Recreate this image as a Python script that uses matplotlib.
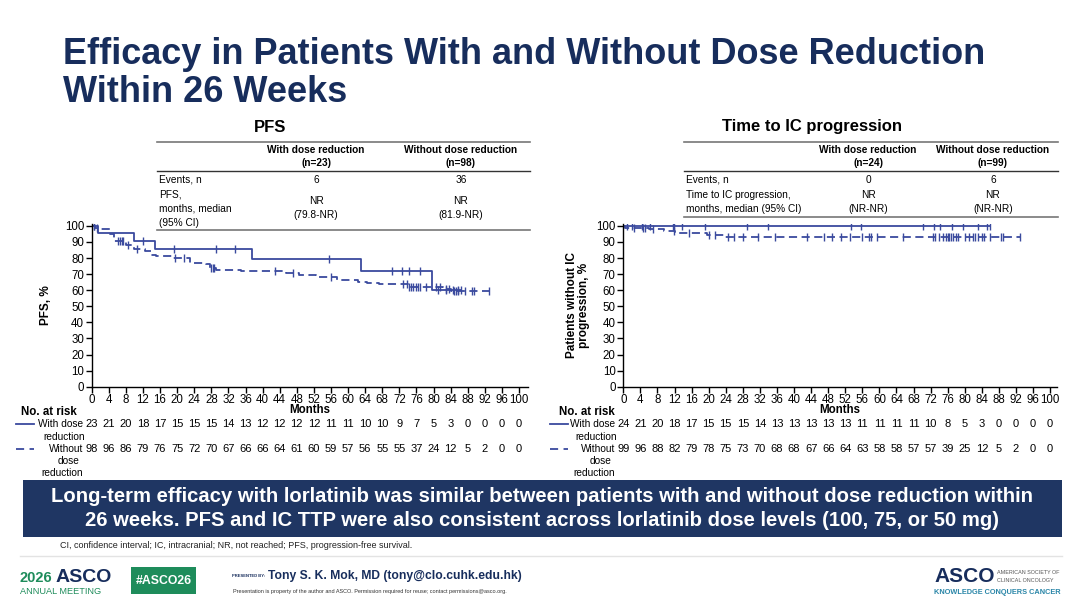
import matplotlib
matplotlib.use("Agg")
import matplotlib.pyplot as plt
import matplotlib.transforms as mtransforms
from matplotlib.patches import Rectangle
from matplotlib.lines import Line2D
import numpy as np

plt.rcParams['font.family'] = ['Liberation Sans', 'DejaVu Sans']

# ---------------- data ----------------
month_ticks = list(range(0, 101, 4))
pct_ticks = list(range(0, 101, 10))

# PFS, with dose reduction (solid)
pfs_with_t = [0, 1.5, 9.8, 14.7, 37.6, 63.0, 79.7]
pfs_with_s = [100, 95.7, 90.9, 85.9, 79.3, 72.1, 60.1]
pfs_with_cens = [0.5, 11.9, 19.3, 29.0, 33.5, 55.6, 70.3, 72.7, 74.3, 76.8, 81.0, 83.0, 84.6, 85.6, 86.5]

# PFS, without dose reduction (dashed)
pfs_wo_t = [0, 0.8, 2.0, 4.3, 5.2, 8.0, 9.8, 12.5, 13.8, 15.0, 19.0, 23.0, 26.8, 27.6, 29.0,
            35.0, 45.5, 48.5, 52.5, 57.5, 62.3, 64.5, 67.3, 74.0, 82.3, 84.0]
pfs_wo_s = [100, 99.0, 98.0, 94.9, 90.6, 88.0, 85.4, 84.3, 82.2, 81.2, 80.2, 77.2, 76.1, 74.0, 72.8,
            71.8, 70.6, 69.4, 68.0, 66.6, 65.4, 64.6, 63.6, 62.2, 60.8, 59.3]
pfs_wo_cens = [0.5, 1.2, 6.2, 6.6, 7.0, 7.4, 8.6, 10.5, 19.5, 21.5, 28.0, 28.3, 28.6, 43.0, 47.0,
               56.0, 72.8, 73.8, 74.3, 74.8, 75.3, 75.8, 76.3, 76.8, 78.3, 80.5, 81.5, 82.8, 83.5,
               84.8, 85.3, 85.8, 87.3, 89.0, 89.4, 93.0]

# Time to IC progression, with dose reduction (solid)
ic_with_t = [0]
ic_with_s = [100]
ic_with_cens = [0.9, 2.0, 4.3, 6.3, 11.7, 11.9, 13.8, 19.1, 28.9, 33.8, 53.4, 55.6, 70.3, 72.7,
                74.2, 77.0, 79.5, 83.0, 85.2, 85.8]

# Time to IC progression, without dose reduction (dashed)
ic_wo_t = [0, 0.5, 6.0, 9.5, 12.0, 19.5, 23.5]
ic_wo_s = [100, 99.0, 97.9, 96.9, 95.6, 94.3, 93.2]
ic_wo_cens = [2.5, 4.5, 5.0, 7.0, 11.8, 15.3, 20.0, 21.5, 24.5, 26.0, 28.0, 31.5, 35.5, 43.0, 47.0,
              49.0, 51.0, 53.0, 56.0, 57.5, 58.0, 59.5, 65.5, 72.5, 73.0, 74.0, 75.0, 75.5, 76.0,
              76.4, 76.8, 77.2, 78.0, 78.5, 80.0, 81.0, 82.0, 82.5, 83.0, 84.0, 84.6, 86.0, 88.5,
              89.0, 93.0]

# numbers at risk
risk_pfs_with = [23, 21, 20, 18, 17, 15, 15, 15, 14, 13, 12, 12, 12, 12, 11, 11, 10, 10, 9, 7, 5, 3, 0, 0, 0, 0]
risk_pfs_wo = [98, 96, 86, 79, 76, 75, 72, 70, 67, 66, 66, 64, 61, 60, 59, 57, 56, 55, 55, 37, 24, 12, 5, 2, 0, 0]
risk_ic_with = [24, 21, 20, 18, 17, 15, 15, 15, 14, 13, 13, 13, 13, 13, 11, 11, 11, 11, 10, 8, 5, 3, 0, 0, 0, 0]
risk_ic_wo = [99, 96, 88, 82, 79, 78, 75, 73, 70, 68, 68, 67, 66, 64, 63, 58, 58, 57, 57, 39, 25, 12, 5, 2, 0, 0]

# table texts
pfs_table = {
    "title": "PFS",
    "head": ["With dose reduction\n(n=23)", "Without dose reduction\n(n=98)"],
    "events": ["6", "36"],
    "row2_label": "PFS,\nmonths, median\n(95% CI)",
    "row2": ["NR\n(79.8-NR)", "NR\n(81.9-NR)"],
}
ic_table = {
    "title": "Time to IC progression",
    "head": ["With dose reduction\n(n=24)", "Without dose reduction\n(n=99)"],
    "events": ["0", "6"],
    "row2_label": "Time to IC progression,\nmonths, median (95% CI)",
    "row2": ["NR\n(NR-NR)", "NR\n(NR-NR)"],
}

# ---------------- style ----------------
W, H = 1080, 607
NAVY = '#172d5c'
LINE = '#3a4a9e'
BOX = '#1f3663'
GREEN = '#1e8c5b'

fig = plt.figure(figsize=(W / 100, H / 100), dpi=100)
fig.patch.set_facecolor('white')


def fx(px):
    return px / W


def fy(py):
    return 1 - py / H


def ftext(px, py, s, **kw):
    return fig.text(fx(px), fy(py), s, **kw)


def fline(x0, x1, y, color='#555555', lw=1.0):
    fig.add_artist(Line2D([fx(x0), fx(x1)], [fy(y), fy(y)], color=color, lw=lw,
                         transform=fig.transFigure))


# title
ftext(63, 54, "Efficacy in Patients With and Without Dose Reduction", fontsize=26,
      fontweight='bold', color=NAVY, va='center', ha='left')
ftext(63, 93, "Within 26 Weeks", fontsize=26, fontweight='bold', color=NAVY,
      va='center', ha='left')


def draw_km(ax, t, s, cens, dashed):
    t = list(t)
    s = list(s)
    end = max(cens + t)
    xs = t + [end]
    ys = s + [s[-1]]
    ls = (0, (4.5, 2.5)) if dashed else '-'
    ax.step(xs, ys, where='post', color=LINE, lw=1.3, ls=ls)
    tt = np.array(t)
    ss = np.array(s)
    cy = [ss[np.searchsorted(tt, c, side='right') - 1] for c in cens]
    ax.plot(cens, cy, ls='none', marker='|', ms=6, mew=1.0, color=LINE)


def setup_axes(left_px, right_px, xmax):
    top_px, bot_px = 223.5, 386.7
    ax = fig.add_axes([fx(left_px), fy(bot_px), fx(right_px) - fx(left_px), fy(top_px) - fy(bot_px)])
    ax.set_xlim(0, xmax)
    ax.set_ylim(0, 101.5)
    ax.set_xticks(month_ticks)
    ax.set_yticks(pct_ticks)
    ax.tick_params(direction='out', length=4, width=1, labelsize=8.3, pad=1.5, colors='black')
    for sp in ['top', 'right']:
        ax.spines[sp].set_visible(False)
    for sp in ['left', 'bottom']:
        ax.spines[sp].set_linewidth(1.0)
    ax.set_facecolor('none')
    ax.text(0.5, -0.145, "Months", transform=ax.transAxes, ha='center', va='center',
            fontsize=8.3, fontweight='bold')
    return ax


axL = setup_axes(91.7, 527.6, 102)
axR = setup_axes(623.3, 1057, 101.6)

draw_km(axL, pfs_with_t, pfs_with_s, pfs_with_cens, False)
draw_km(axL, pfs_wo_t, pfs_wo_s, pfs_wo_cens, True)
draw_km(axR, ic_with_t, ic_with_s, ic_with_cens, False)
draw_km(axR, ic_wo_t, ic_wo_s, ic_wo_cens, True)

ftext(46, 305, "PFS, %", rotation=90, fontsize=8.5, fontweight='bold', ha='center', va='center')
ftext(578, 305, "Patients without IC\nprogression, %", rotation=90, fontsize=8.5,
      fontweight='bold', ha='center', va='center', linespacing=1.1)


# tables
def draw_table(tb, title_x, x0, x1, c1, c2, label_x, bottom_y, row2_y):
    ftext(title_x, 127, tb["title"], fontsize=12, fontweight='bold', ha='center', va='center')
    fline(x0, x1, 142, color='#777777', lw=1.2)
    for cx, h in zip([c1, c2], tb["head"]):
        ftext(cx, 156.5, h, fontsize=7.3, fontweight='bold', ha='center', va='center',
              linespacing=1.45)
    fline(x0, x1, 171, color='#333333', lw=1.0)
    ftext(label_x, 180, "Events, n", fontsize=7.3, ha='left', va='center')
    for cx, e in zip([c1, c2], tb["events"]):
        ftext(cx, 180, e, fontsize=7.3, ha='center', va='center')
    ftext(label_x, row2_y, tb["row2_label"], fontsize=7.3, ha='left', va='center',
          linespacing=1.5)
    for cx, v in zip([c1, c2], tb["row2"]):
        ftext(cx, row2_y, v, fontsize=7.3, ha='center', va='center', linespacing=1.5)
    fline(x0, x1, bottom_y, color='#777777', lw=1.2)


draw_table(pfs_table, 270, 157, 530, 316, 461, 159, 229.5, 208.5)
draw_table(ic_table, 812, 684, 1058, 868, 993, 686, 216.5, 201.5)


# numbers at risk
def draw_risk(ax, risk1, risk2, lab_x, line_x0, line_x1, title_cx):
    tr = mtransforms.blended_transform_factory(ax.transData, fig.transFigure)
    for m, v in zip(month_ticks, risk1):
        ax.text(m, fy(424), str(v), transform=tr, ha='center', va='center', fontsize=8,
                clip_on=False)
    for m, v in zip(month_ticks, risk2):
        ax.text(m, fy(449), str(v), transform=tr, ha='center', va='center', fontsize=8,
                clip_on=False)
    ftext(title_cx, 412, "No. at risk", fontsize=8.3, fontweight='bold', ha='center', va='center')
    fig.add_artist(Line2D([fx(line_x0), fx(line_x1)], [fy(424), fy(424)], color=LINE, lw=1.3,
                          transform=fig.transFigure))
    fig.add_artist(Line2D([fx(line_x0), fx(line_x1)], [fy(449), fy(449)], color=LINE, lw=1.3,
                          ls=(0, (4.5, 3)), transform=fig.transFigure))
    ftext(lab_x, 424, "With dose", fontsize=7.3, ha='right', va='center')
    ftext(lab_x + 2, 437, "reduction", fontsize=7.3, ha='right', va='center')
    ftext(lab_x, 449, "Without", fontsize=7.3, ha='right', va='center')
    ftext(lab_x - 3, 461, "dose", fontsize=7.3, ha='right', va='center')
    ftext(lab_x, 473, "reduction", fontsize=7.3, ha='right', va='center')


draw_risk(axL, risk_pfs_with, risk_pfs_wo, 83, 16, 34, 49)
draw_risk(axR, risk_ic_with, risk_ic_wo, 615, 550, 568, 587)

# blue summary box
fig.add_artist(Rectangle((fx(23), fy(537)), fx(1062) - fx(23), fy(480) - fy(537),
                         facecolor=BOX, edgecolor='none', transform=fig.transFigure))
ftext(542, 496, "Long-term efficacy with lorlatinib was similar between patients with and without dose reduction within",
      fontsize=14.6, fontweight='bold', color='white', ha='center', va='center')
ftext(542, 521, "26 weeks. PFS and IC TTP were also consistent across lorlatinib dose levels (100, 75, or 50 mg)",
      fontsize=14.6, fontweight='bold', color='white', ha='center', va='center')

ftext(60, 545, "CI, confidence interval; IC, intracranial; NR, not reached; PFS, progression-free survival.",
      fontsize=6.5, ha='left', va='center', color='#222222')
fline(20, 1062, 556, color='#e3e3e3', lw=1.0)

# footer
ftext(20, 578, "2026", fontsize=10.5, fontweight='bold', color=GREEN, ha='left', va='center')
ftext(56, 577, "ASCO", fontsize=14, fontweight='bold', color=NAVY, ha='left', va='center')
ftext(20, 591, "ANNUAL MEETING", fontsize=6.6, color=GREEN, ha='left', va='center')
fig.add_artist(Rectangle((fx(131), fy(594)), fx(196) - fx(131), fy(567) - fy(594),
                         facecolor=GREEN, edgecolor='none', transform=fig.transFigure))
ftext(163.5, 580.5, "#ASCO26", fontsize=8.8, fontweight='bold', color='white', ha='center', va='center')
ftext(232, 576, "PRESENTED BY:", fontsize=3.0, fontweight='bold', color=NAVY, ha='left', va='center')
ftext(268, 576, "Tony S. K. Mok, MD (tony@clo.cuhk.edu.hk)", fontsize=8.7, fontweight='bold',
      color=NAVY, ha='left', va='center')
ftext(233, 591, "Presentation is property of the author and ASCO. Permission required for reuse; contact permissions@asco.org.",
      fontsize=4.0, color='#333333', ha='left', va='center')

ftext(934, 577, "ASCO", fontsize=15, fontweight='bold', color=NAVY, ha='left', va='center')
ftext(997, 572, "AMERICAN SOCIETY OF", fontsize=3.9, color='#555555', ha='left', va='center')
ftext(997, 580, "CLINICAL ONCOLOGY", fontsize=3.9, color='#555555', ha='left', va='center')
ftext(934, 592, "KNOWLEDGE CONQUERS CANCER", fontsize=5.3, fontweight='bold', color='#2a86a8',
      ha='left', va='center')

fig.savefig("out.png", dpi=100, facecolor='white')
